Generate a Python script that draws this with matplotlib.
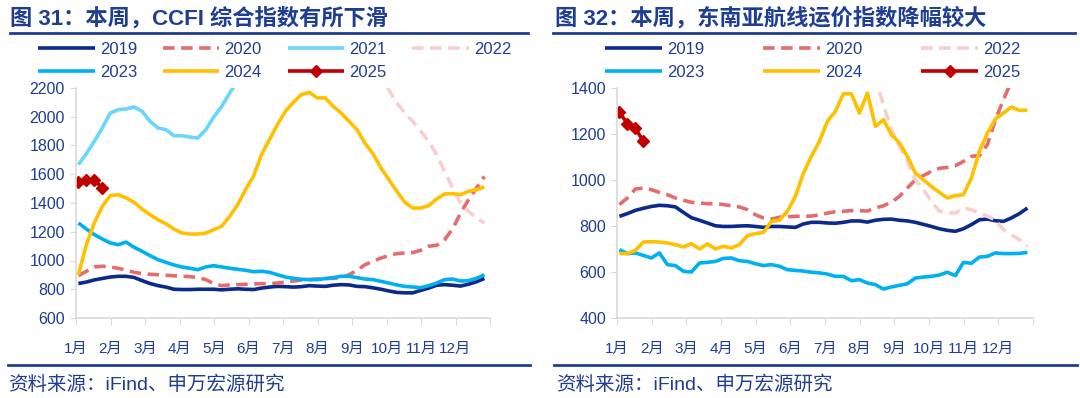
import numpy as np
import matplotlib
matplotlib.use('Agg')
import matplotlib.pyplot as plt
from matplotlib.lines import Line2D

plt.rcParams['font.family'] = ['Liberation Sans', 'Noto Sans CJK SC', 'DejaVu Sans']

NA = np.nan
months = ['1月', '2月', '3月', '4月', '5月', '6月', '7月', '8月', '9月', '10月', '11月', '12月']

# ---- CCFI composite index (left), weekly ----
ccfi_2019 = [840, 850, 865, 875, 885, 890, 890, 882, 860, 840, 825, 815, 800, 798, 798, 800, 800, 800,
             796, 800, 803, 800, 798, 808, 815, 820, 818, 815, 818, 825, 822, 820, 828, 832, 830, 820,
             818, 810, 800, 788, 778, 775, 775, 792, 808, 828, 832, 828, 822, 835, 852, 875]
ccfi_2020 = [894, 925, 955, 960, 955, 946, 932, 918, 908, 904, 901, 897, 894, 890, 888, 881, 867, 839,
             825, 830, 832, 834, 837, 839, 839, 843, 850, 857, 864, 867, 871, 874, 876, 881, 901, 932,
             971, 994, 1017, 1034, 1048, 1052, 1055, 1071, 1099, 1106, 1145, 1219, 1330, 1423, 1504, 1585]
ccfi_2021 = [1667, 1743, 1829, 1922, 2026, 2049, 2054, 2068, 2038, 1968, 1922, 1910, 1868, 1868, 1859,
             1852, 1910, 1998, 2072, 2165, 2246, 2330]
ccfi_2022 = [NA] * 36 + [2400, 2330, 2260, 2188, 2096, 2026, 1968, 1899, 1829, 1736, 1620, 1504, 1400,
                         1342, 1296, 1261]
ccfi_2023 = [1261, 1219, 1180, 1150, 1122, 1110, 1128, 1092, 1064, 1034, 1006, 987, 969, 955, 946, 936,
             955, 964, 955, 946, 939, 932, 922, 925, 918, 901, 885, 876, 869, 867, 867, 874, 881, 890,
             890, 881, 871, 867, 855, 843, 830, 820, 816, 811, 825, 843, 867, 871, 857, 860, 876, 901]
ccfi_2024 = [901, 1110, 1261, 1377, 1451, 1458, 1435, 1405, 1358, 1319, 1284, 1256, 1219, 1191, 1184,
             1184, 1191, 1214, 1238, 1307, 1388, 1493, 1586, 1736, 1841, 1945, 2038, 2100, 2154, 2170,
             2131, 2131, 2073, 2026, 1968, 1910, 1817, 1743, 1644, 1562, 1481, 1405, 1365, 1365, 1381,
             1428, 1463, 1465, 1458, 1481, 1493, 1511]
ccfi_2025 = [1545, 1562, 1558, 1506]

# ---- Southeast Asia route index (right), weekly ----
sea_2019 = [842, 854, 868, 877, 885, 890, 888, 883, 859, 836, 825, 813, 801, 798, 798, 800, 801, 798,
            794, 798, 798, 796, 794, 809, 816, 816, 813, 812, 816, 822, 822, 817, 825, 829, 830, 825,
            822, 816, 807, 798, 788, 781, 777, 788, 806, 827, 830, 823, 820, 835, 854, 878]
sea_2020 = [893, 922, 961, 965, 958, 946, 936, 922, 912, 903, 900, 897, 897, 893, 888, 883, 871, 849,
            835, 830, 838, 840, 842, 842, 843, 849, 856, 862, 864, 867, 867, 865, 878, 888, 903, 929,
            965, 1001, 1019, 1038, 1051, 1055, 1062, 1081, 1103, 1106, 1154, 1262, 1349, 1429, 1500, 1560]
sea_2022 = [NA] * 31 + [1530, 1440, 1327, 1219, 1146, 1081, 1001, 958, 907, 864, 859, 856, 878, 871,
                        856, 842, 827, 784, 762, 741, 712]
sea_2023 = [697, 680, 683, 672, 661, 683, 632, 628, 603, 600, 639, 642, 646, 659, 661, 649, 646, 636,
            628, 632, 625, 610, 607, 604, 599, 596, 591, 581, 581, 562, 567, 552, 545, 526, 535, 542,
            549, 574, 578, 581, 587, 599, 584, 642, 638, 665, 668, 683, 680, 680, 681, 685]
sea_2024 = [680, 680, 694, 730, 732, 730, 726, 719, 709, 723, 700, 722, 700, 712, 704, 719, 758, 767,
            772, 820, 825, 864, 929, 1030, 1103, 1168, 1255, 1298, 1375, 1375, 1291, 1378, 1233, 1262,
            1197, 1161, 1103, 1030, 1001, 972, 946, 922, 932, 936, 1008, 1125, 1204, 1265, 1291, 1317,
            1303, 1303]
sea_2025 = [1295, 1245, 1225, 1168]

TXT = '#1F3E93'
AX = '#D9D9D9'
styles = {
    '2019': dict(color='#0B2A8C', lw=2.6),
    '2020': dict(color='#E46C6C', lw=2.6, dashes=(3.2, 1.8)),
    '2021': dict(color='#6AD6FF', lw=2.6),
    '2022': dict(color='#F8CFCF', lw=2.6, dashes=(3.2, 1.8)),
    '2023': dict(color='#00B0F0', lw=2.6),
    '2024': dict(color='#FFC000', lw=2.6),
    '2025': dict(color='#C00000', lw=2.6, marker='D', markersize=6),
}

fig = plt.figure(figsize=(10.8, 3.98), dpi=100)
ax1 = fig.add_axes([76 / 1080, 1 - 318 / 398, 414 / 1080, 230 / 398])
ax2 = fig.add_axes([617 / 1080, 1 - 318 / 398, 416 / 1080, 230 / 398])


def draw(ax, series, ylim, order, ncol, lx, colsp):
    handles = {}
    for year, vals in series.items():
        x = np.arange(len(vals)) + 0.3
        ln, = ax.plot(x, vals, label=year, solid_capstyle='butt', **styles[year])
        handles[year] = ln
    ax.set_xlim(0, 52)
    ax.set_ylim(*ylim)
    ax.set_yticks(np.arange(ylim[0], ylim[1] + 1, 200))
    ticks = np.arange(13) * 52 / 12
    ax.set_xticks(ticks)
    ax.set_xticklabels(months + [''])
    for s in ['top', 'right']:
        ax.spines[s].set_visible(False)
    for s in ['left', 'bottom']:
        ax.spines[s].set_color(AX)
        ax.spines[s].set_linewidth(1.2)
    ax.tick_params(axis='y', colors=AX, labelcolor=TXT, labelsize=11.5, length=4, pad=4)
    ax.tick_params(axis='x', colors=AX, labelcolor=TXT, labelsize=11, length=5, pad=12)
    hs = [handles[y] for y in order]
    fig.legend(hs, order, loc='upper left', bbox_to_anchor=(lx, 1 - 42 / 398), ncol=ncol,
               frameon=False, fontsize=12, handlelength=3.4, handletextpad=0.3,
               columnspacing=colsp, labelspacing=0.5, borderpad=0, borderaxespad=0,
               labelcolor=TXT)


draw(ax1, {'2019': ccfi_2019, '2020': ccfi_2020, '2021': ccfi_2021, '2022': ccfi_2022,
           '2023': ccfi_2023, '2024': ccfi_2024, '2025': ccfi_2025},
     (600, 2200), ['2019', '2023', '2020', '2024', '2021', '2025', '2022'], 4, 38 / 1080, 1.55)
draw(ax2, {'2019': sea_2019, '2020': sea_2020, '2022': sea_2022,
           '2023': sea_2023, '2024': sea_2024, '2025': sea_2025},
     (400, 1400), ['2019', '2023', '2020', '2024', '2022', '2025'], 3, 605 / 1080, 3.55)

# titles, rules and source notes
fig.text(10 / 1080, 1 - 18 / 398, '图 31：本周，CCFI 综合指数有所下滑', fontsize=16, fontweight='bold',
         color=TXT, va='center', ha='left')
fig.text(555 / 1080, 1 - 18 / 398, '图 32：本周，东南亚航线运价指数降幅较大', fontsize=16, fontweight='bold',
         color=TXT, va='center', ha='left')
for x0, x1 in [(10, 528), (553, 1075)]:
    fig.add_artist(Line2D([x0 / 1080, x1 / 1080], [1 - 33 / 398] * 2, color='#1F3E93', lw=2))
for x0, x1 in [(8, 530), (554, 1077)]:
    fig.add_artist(Line2D([x0 / 1080, x1 / 1080], [1 - 365 / 398] * 2, color='#1F3E93', lw=2))
fig.text(8 / 1080, 1 - 385 / 398, '资料来源：iFind、申万宏源研究', fontsize=14, color=TXT, va='center')
fig.text(556 / 1080, 1 - 385 / 398, '资料来源：iFind、申万宏源研究', fontsize=14, color=TXT, va='center')

fig.savefig('out.png', dpi=100)
